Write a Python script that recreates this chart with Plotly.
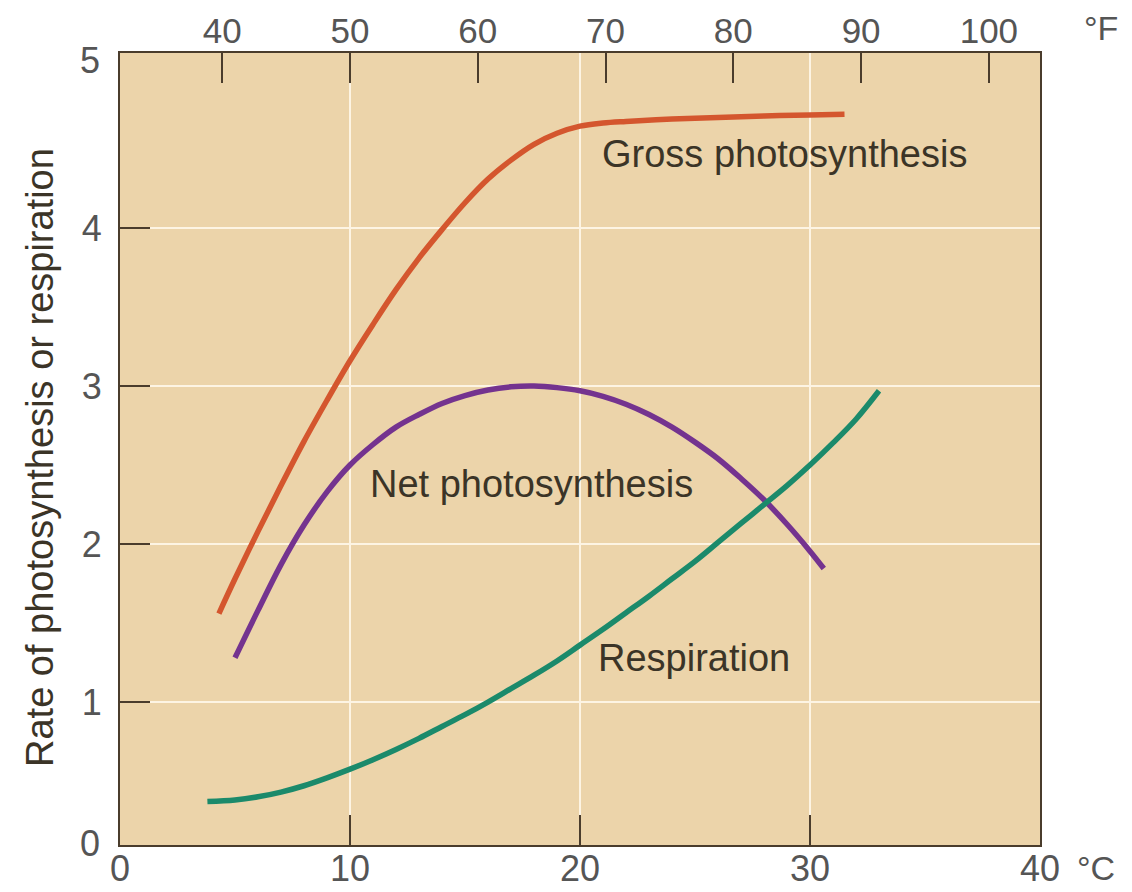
import plotly.graph_objects as go

# Temperature (°C) and rates
gross_t = [4.3, 5, 6, 7, 8, 9, 10, 11, 12, 13, 14, 15, 16, 17, 18, 19, 20, 21, 22, 24, 26, 28, 30, 31.5]
gross_v = [1.56, 1.78, 2.08, 2.37, 2.65, 2.91, 3.16, 3.39, 3.61, 3.81, 3.99, 4.16, 4.31, 4.43, 4.53, 4.60,
           4.645, 4.665, 4.675, 4.69, 4.70, 4.71, 4.715, 4.72]

net_t = [5, 6, 7, 8, 9, 10, 11, 12, 13, 14, 15, 16, 17, 18, 19, 20, 21, 22, 23, 24, 25, 26, 27, 28, 29, 30, 30.6]
net_v = [1.28, 1.58, 1.87, 2.12, 2.33, 2.50, 2.63, 2.74, 2.82, 2.89, 2.94, 2.975, 2.995, 3.00, 2.99, 2.97,
         2.935, 2.885, 2.82, 2.74, 2.645, 2.54, 2.415, 2.28, 2.125, 1.955, 1.845]

resp_t = [3.8, 5, 6, 7, 8, 9, 10, 11, 12, 13, 14, 15, 16, 17, 18, 19, 20, 21, 22, 23, 24, 25, 26, 27,
          28, 29, 30, 31, 32, 33]
resp_v = [0.37, 0.38, 0.40, 0.43, 0.47, 0.52, 0.575, 0.635, 0.70, 0.77, 0.845, 0.92, 1.00, 1.085, 1.17, 1.26,
          1.36, 1.46, 1.565, 1.67, 1.78, 1.89, 2.01, 2.13, 2.25, 2.37, 2.50, 2.64, 2.79, 2.97]

celsius_ticks = [0, 10, 20, 30, 40]
fahrenheit_ticks = [40, 50, 60, 70, 80, 90, 100]
rate_ticks = [1, 2, 3, 4]

labels = ["Gross photosynthesis", "Net photosynthesis", "Respiration"]
label_t = [28.9, 17.9, 24.95]
label_v = [4.47, 2.38, 1.28]

FONT = "Liberation Sans, Arial, sans-serif"
TICKC = "#555555"
TEXTC = "#3b3427"
FRAME = "#4a3c2c"
BG = "#ecd4aa"
GRID = "#fdf4e3"

fig = go.Figure()
fig.add_trace(go.Scatter(x=gross_t, y=gross_v, mode="lines", line=dict(color="#d4562e", width=5.5, shape="spline"),
                         showlegend=False, hoverinfo="skip"))
fig.add_trace(go.Scatter(x=net_t, y=net_v, mode="lines", line=dict(color="#74338f", width=5.5, shape="spline"),
                         showlegend=False, hoverinfo="skip"))
fig.add_trace(go.Scatter(x=resp_t, y=resp_v, mode="lines", line=dict(color="#1b8a6b", width=5.5, shape="spline"),
                         showlegend=False, hoverinfo="skip"))
# invisible trace to activate top Fahrenheit axis
fig.add_trace(go.Scatter(x=[fahrenheit_ticks[0]], y=[rate_ticks[0]], xaxis="x2", mode="markers",
                         marker=dict(opacity=0), showlegend=False, hoverinfo="skip"))

for txt, tx, ty in zip(labels, label_t, label_v):
    fig.add_annotation(x=tx, y=ty, text=txt, showarrow=False, xref="x", yref="y",
                       font=dict(family=FONT, size=38, color=TEXTC))

# y-axis title
fig.add_annotation(x=0, y=0.5, xref="paper", yref="paper", text="Rate of photosynthesis or respiration",
                   showarrow=False, textangle=-90, xanchor="center", yanchor="middle",
                   xshift=-80, yshift=-9, font=dict(family=FONT, size=38, color=TEXTC))

# end labels on the y axis and unit labels
fig.add_annotation(x=0, y=1, xref="paper", yref="paper", text="5", showarrow=False,
                   xanchor="right", yanchor="middle", xshift=-18, yshift=-7,
                   font=dict(family=FONT, size=36, color=TICKC))
fig.add_annotation(x=0, y=0, xref="paper", yref="paper", text="0", showarrow=False,
                   xanchor="right", yanchor="middle", xshift=-18, yshift=2,
                   font=dict(family=FONT, size=36, color=TICKC))
fig.add_annotation(x=1, y=1, xref="paper", yref="paper", text="°F", showarrow=False,
                   xanchor="left", yanchor="middle", xshift=42, yshift=25,
                   font=dict(family=FONT, size=34, color=TICKC))
fig.add_annotation(x=1, y=0, xref="paper", yref="paper", text="°C", showarrow=False,
                   xanchor="left", yanchor="middle", xshift=35, yshift=-23,
                   font=dict(family=FONT, size=34, color=TICKC))

# page body has an 8px margin: shrink the figure so the plot box lands at 120..1040 x 53..845
fig.update_layout(
    width=1124, height=884,
    margin=dict(l=112, r=92, t=45, b=47, autoexpand=False),
    paper_bgcolor="white", plot_bgcolor=BG,
    font=dict(family=FONT, size=36, color=TICKC),
    xaxis=dict(range=[0, 40], tickvals=celsius_ticks, ticks="inside", ticklen=30, tickwidth=2,
               tickcolor=FRAME, showgrid=True, gridcolor=GRID, gridwidth=2, zeroline=False,
               showline=True, linecolor=FRAME, linewidth=2, mirror=True,
               tickfont=dict(family=FONT, size=36, color=TICKC), ticklabelstandoff=-9),
    xaxis2=dict(range=[32, 104], overlaying="x", side="top", tickvals=fahrenheit_ticks,
                ticks="inside", ticklen=30, tickwidth=2, tickcolor=FRAME, showgrid=False,
                zeroline=False, showline=False,
                tickfont=dict(family=FONT, size=35, color=TICKC), ticklabelstandoff=2),
    yaxis=dict(range=[0.095, 5.108], tickvals=rate_ticks, ticks="inside", ticklen=30, tickwidth=2,
               tickcolor=FRAME, showgrid=True, gridcolor=GRID, gridwidth=2, zeroline=False,
               showline=True, linecolor=FRAME, linewidth=2, mirror=True,
               tickfont=dict(family=FONT, size=36, color=TICKC), ticklabelstandoff=9),
)

fig.write_html("out.html")
